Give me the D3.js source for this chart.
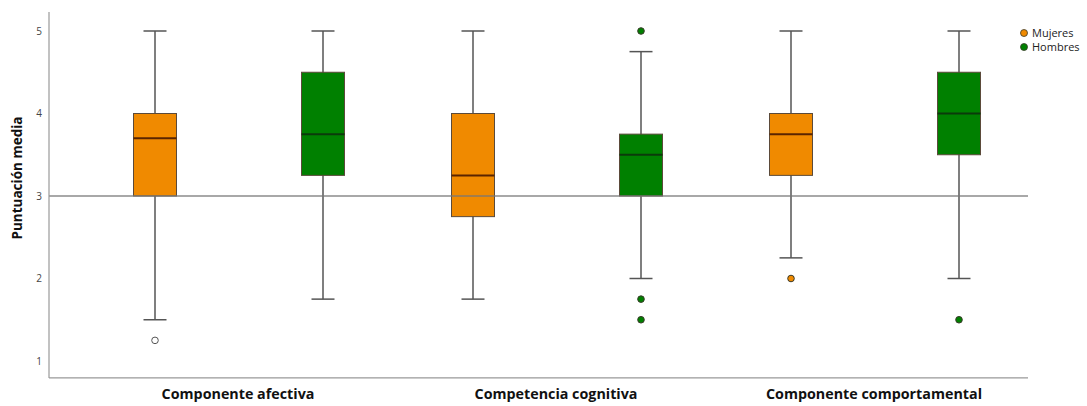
<!DOCTYPE html>
<html>
<head>
<meta charset="utf-8">
<script src="https://cdn.jsdelivr.net/npm/d3@7"></script>
<style>
  body { margin: 0; background: #fff; }
  svg { font-family: "Open Sans", "DejaVu Sans", sans-serif; }
</style>
</head>
<body>
<svg id="chart"></svg>
<script>
// categories and groups
const categories = ["Componente afectiva", "Competencia cognitiva", "Componente comportamental"];
const groups = ["Mujeres", "Hombres"];
const yTicks = [1, 2, 3, 4, 5];
const refValue = 3;

// box stats per category: [low whisker, q1, median, q3, high whisker]
const mujeresStats = [
  [1.5, 3.0, 3.7, 4.0, 5.0],
  [1.75, 2.75, 3.25, 4.0, 5.0],
  [2.25, 3.25, 3.75, 4.0, 5.0]
];
const hombresStats = [
  [1.75, 3.25, 3.75, 4.5, 5.0],
  [2.0, 3.0, 3.5, 3.75, 4.75],
  [2.0, 3.5, 4.0, 4.5, 5.0]
];
// outliers per category
const mujeresOutliers = [[1.25], [], [2.0]];
const hombresOutliers = [[], [5.0, 1.75, 1.5], [1.5]];
// first category orange outlier is drawn as open circle (extreme)
const mujeresOpen = [[true], [], [false]];
const hombresOpen = [[], [false, false, false], [false]];

const W = 1087, H = 406;
const colors = { Mujeres: "#f08a00", Hombres: "#008000" };
const medianColors = { Mujeres: "#5a2400", Hombres: "#0b3a0b" };

const svg = d3.select("#chart").attr("width", W).attr("height", H);

const xAxisLeft = 49, xAxisRight = 1028;
const scaleX = d3.scaleBand().domain(categories).range([79, 1033]);
const scaleY = d3.scaleLinear().domain([3, 5]).range([196, 31]);
const yTop = scaleY(5.23), yBottom = scaleY(0.795);

const offsets = { Mujeres: -83, Hombres: 85 };
const boxW = 43, capW = 23;

// assemble rows
const rows = [];
categories.forEach((c, i) => {
  groups.forEach(g => {
    const s = g === "Mujeres" ? mujeresStats[i] : hombresStats[i];
    const o = g === "Mujeres" ? mujeresOutliers[i] : hombresOutliers[i];
    const op = g === "Mujeres" ? mujeresOpen[i] : hombresOpen[i];
    rows.push({ cat: c, group: g, stats: s, outliers: o.map((v, k) => ({ v, open: op[k] })) });
  });
});

const cx = d => scaleX(d.cat) + scaleX.bandwidth() / 2 + offsets[d.group];

const boxes = svg.append("g").selectAll("g").data(rows).join("g");

// whiskers
boxes.append("line")
  .attr("x1", cx).attr("x2", cx)
  .attr("y1", d => scaleY(d.stats[0])).attr("y2", d => scaleY(d.stats[4]))
  .style("stroke", "#555").style("stroke-width", 1.5);
boxes.selectAll(".cap").data(d => [d, d].map((r, k) => ({ r, v: r.stats[k * 4] }))).join("line")
  .attr("x1", d => cx(d.r) - capW / 2).attr("x2", d => cx(d.r) + capW / 2)
  .attr("y1", d => scaleY(d.v)).attr("y2", d => scaleY(d.v))
  .style("stroke", "#555").style("stroke-width", 1.5);

// box
boxes.append("rect")
  .attr("x", d => cx(d) - boxW / 2)
  .attr("width", boxW)
  .attr("y", d => scaleY(d.stats[3]))
  .attr("height", d => scaleY(d.stats[1]) - scaleY(d.stats[3]))
  .style("fill", d => colors[d.group])
  .style("stroke", "#5b4a3a").style("stroke-width", 1);

// median
boxes.append("line")
  .attr("x1", d => cx(d) - boxW / 2).attr("x2", d => cx(d) + boxW / 2)
  .attr("y1", d => scaleY(d.stats[2])).attr("y2", d => scaleY(d.stats[2]))
  .style("stroke", d => medianColors[d.group]).style("stroke-width", 2);

// outliers
boxes.selectAll("circle").data(d => d.outliers.map(o => ({ ...o, r: d }))).join("circle")
  .attr("cx", d => cx(d.r)).attr("cy", d => scaleY(d.v)).attr("r", 3.3)
  .style("fill", d => d.open ? "#fff" : colors[d.r.group])
  .style("stroke", d => d.open ? "#555" : "#3a3a2a").style("stroke-width", 1);

// reference line on top
svg.append("line")
  .attr("x1", xAxisLeft).attr("x2", xAxisRight)
  .attr("y1", scaleY(refValue)).attr("y2", scaleY(refValue))
  .style("stroke", "#777").style("stroke-opacity", 0.85).style("stroke-width", 1.5);

// axes lines
svg.append("line")
  .attr("x1", xAxisLeft).attr("x2", xAxisLeft).attr("y1", yTop).attr("y2", yBottom)
  .style("stroke", "#999").style("stroke-width", 1.2);
svg.append("line")
  .attr("x1", xAxisLeft).attr("x2", xAxisRight).attr("y1", yBottom).attr("y2", yBottom)
  .style("stroke", "#999").style("stroke-width", 1.2);

// y ticks
const yAxisG = svg.append("g")
  .attr("transform", `translate(${xAxisLeft},0)`)
  .call(d3.axisLeft(scaleY).tickValues(yTicks).tickSize(0).tickPadding(7).tickFormat(d3.format("d")));
yAxisG.select(".domain").remove();
yAxisG.selectAll("text").style("font-size", "10px").style("fill", "#444").style("font-family", "'Open Sans', sans-serif");

// x labels
const xAxisG = svg.append("g")
  .attr("transform", `translate(0,${yBottom})`)
  .call(d3.axisBottom(scaleX).tickSize(0).tickPadding(11));
xAxisG.select(".domain").remove();
xAxisG.selectAll("text").style("font-size", "14.3px").style("font-weight", "bold").style("fill", "#111")
  .style("font-family", "'Open Sans', sans-serif");

// y title
svg.append("text")
  .attr("transform", `translate(22,178) rotate(-90)`)
  .attr("text-anchor", "middle")
  .style("font-size", "13.5px").style("font-weight", "bold").style("fill", "#111")
  .text("Puntuación media");

// legend
const legend = svg.append("g").selectAll("g").data(groups).join("g")
  .attr("transform", (d, i) => `translate(1024,${33 + i * 14})`);
legend.append("circle").attr("r", 3.5)
  .style("fill", d => colors[d]).style("stroke", "#3a3a2a").style("stroke-width", 0.8);
legend.append("text").attr("x", 8).attr("dy", "0.35em")
  .style("font-size", "11px").style("fill", "#222").text(d => d);
</script>
</body>
</html>
